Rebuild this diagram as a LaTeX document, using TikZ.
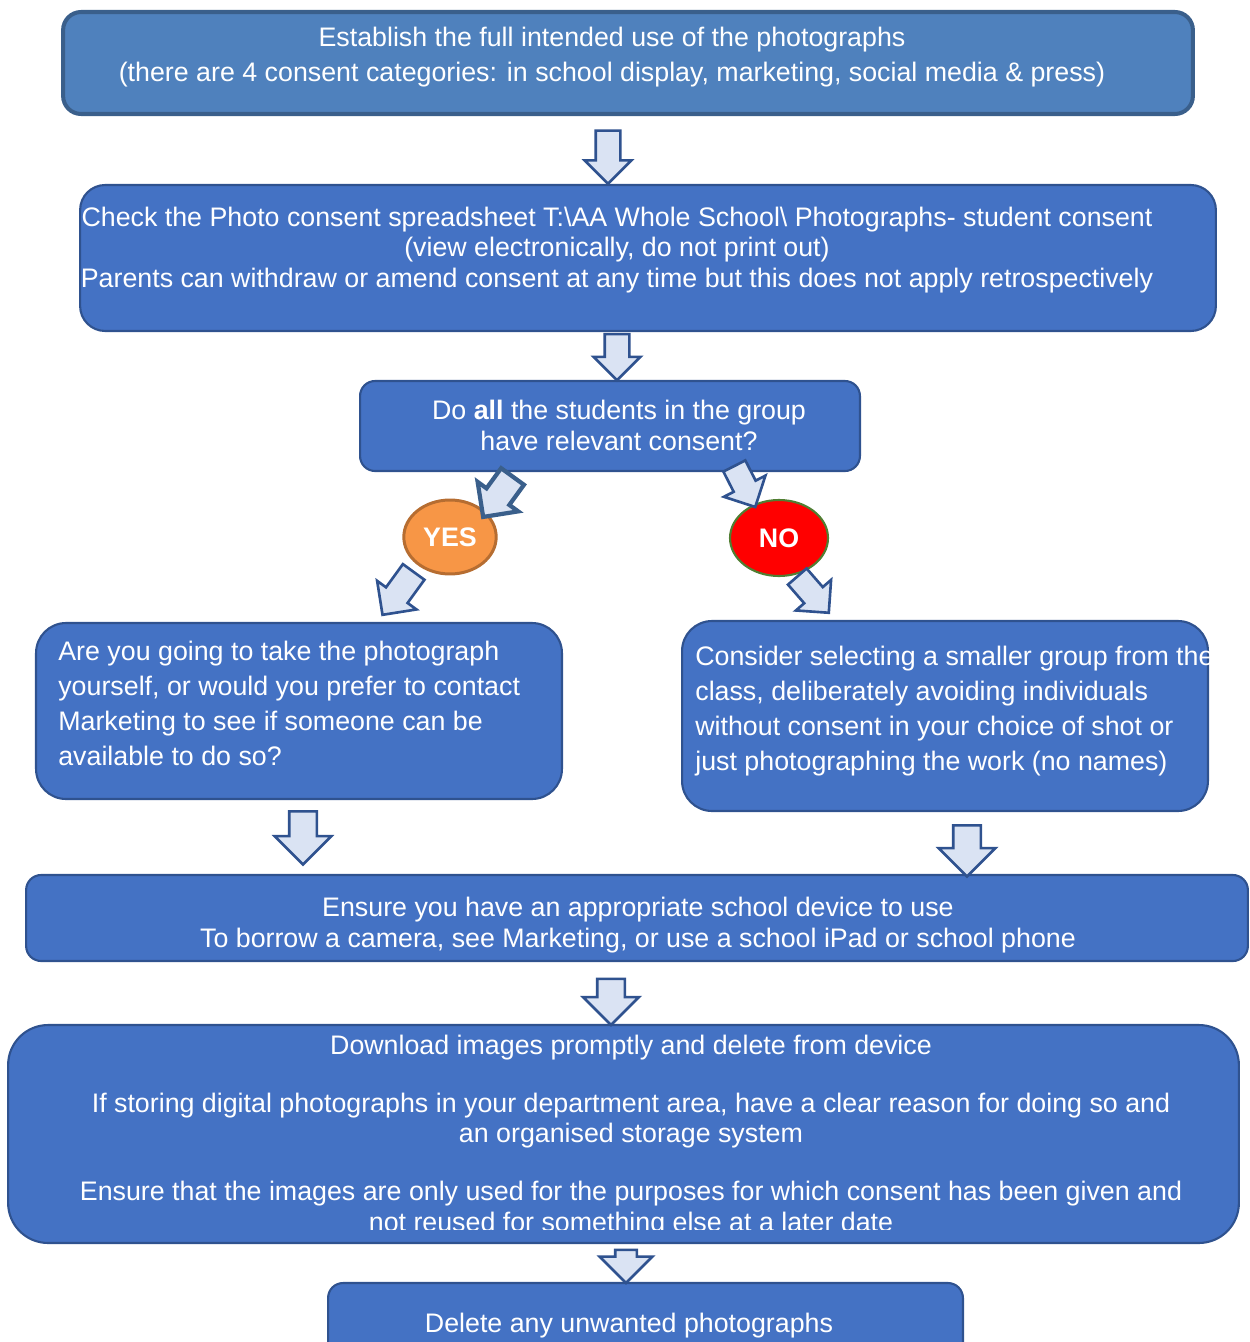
\documentclass[tikz,border=0pt]{standalone}
\usepackage{fontspec}
\setmainfont{Liberation Sans}
\usetikzlibrary{shapes.geometric,shapes.arrows,positioning}
\definecolor{topfill}{HTML}{4F81BD}
\definecolor{topline}{HTML}{3A5F8B}
\definecolor{boxfill}{HTML}{4472C4}
\definecolor{boxline}{HTML}{2F528F}
\definecolor{arrfill}{HTML}{DAE3F3}
\definecolor{yesfill}{HTML}{F79646}
\definecolor{yesline}{HTML}{B66D31}
\definecolor{noline}{HTML}{507E32}

\begin{document}
\begin{tikzpicture}[x=0.02cm,y=-0.02cm]
		\tikzstyle{box} = [draw=boxline, fill=boxfill, line width=1.2pt]
		\tikzstyle{txt} = [text=white, inner sep=0pt, font=\fontsize{15.25}{17.6}\selectfont]
		\tikzstyle{blk} = [single arrow, draw=boxline, fill=arrfill, line width=1.5pt, inner xsep=0pt, inner ysep=0.22cm, single arrow head extend=0.22cm]
		\useasboundingbox (0,0) rectangle (1250,1342);
		
		% Cajas
		\node[box, draw=topline, fill=topfill, line width=2.3pt, rounded corners=0.36cm, minimum width=22.6cm, minimum height=2.04cm] (intent) at (628,63) {};
		\node[box, rounded corners=0.5cm, minimum width=22.72cm, minimum height=2.92cm] (check) at (648,258) {};
		\node[box, rounded corners=0.3cm, minimum width=10cm, minimum height=1.8cm] (group) at (610,426) {};
		\node[box, rounded corners=0.6cm, minimum width=10.52cm, minimum height=3.52cm] (take) at (299,711) {};
		\node[box, rounded corners=0.6cm, minimum width=10.52cm, minimum height=3.8cm] (smaller) at (945,716) {};
		\node[box, rounded corners=0.3cm, minimum width=24.44cm, minimum height=1.72cm] (device) at (637,918) {};
		\node[box, rounded corners=0.8cm, minimum width=24.62cm, minimum height=4.36cm] (download) at (623.5,1134) {};
		\node[box, rounded corners=0.3cm, minimum width=12.7cm, minimum height=2.34cm] (delete) at (645.5,1341.5) {};
		
		% YES / NO
		\node[ellipse, draw=yesline, fill=yesfill, line width=1.7pt, minimum width=1.8cm, minimum height=1.48cm, text=white, font=\fontsize{15.25}{18}\selectfont\bfseries] (yes) at (450,537) {YES};
		\node[ellipse, draw=noline, fill=red, line width=1.2pt, minimum width=1.96cm, minimum height=1.52cm, text=white, font=\fontsize{15.25}{18}\selectfont\bfseries] (no) at (779,538) {NO};
		
		% Textos
		\node[txt, align=center, font=\fontsize{15.25}{19.9}\selectfont] (intenttxt) at (612,57) {Establish the full intended use of the photographs\\(there are 4 consent categories: in school display, marketing, social media \& press)};
		\node[txt, align=center] (checktxt) at (617,250) {Check the Photo consent spreadsheet T:\textbackslash AA Whole School\textbackslash{} Photographs- student consent\\(view electronically, do not print out)\\Parents can withdraw or amend consent at any time but this does not apply retrospectively};
		\node[txt, align=center] (grouptxt) at (619,425) {Do \textbf{all} the students in the group\\have relevant consent?};
		\node[txt, align=left, anchor=west, font=\fontsize{15.25}{19.9}\selectfont] (taketxt) at (58,703) {Are you going to take the photograph\\yourself, or would you prefer to contact\\Marketing to see if someone can be\\available to do so?};
		\node[txt, align=left, anchor=west, font=\fontsize{15.25}{19.9}\selectfont] (smallertxt) at (695,711) {Consider selecting a smaller group from the\\class, deliberately avoiding individuals\\without consent in your choice of shot or\\just photographing the work (no names)};
		\node[txt, align=center] (devicetxt) at (638,925) {Ensure you have an appropriate school device to use\\To borrow a camera, see Marketing, or use a school iPad or school phone};
		\begin{scope}
			\clip (0,0) rectangle (1250,1229);
			\node[txt, align=center] (downloadtxt) at (631,1136) {Download images promptly and delete from device\\[15.4pt]If storing digital photographs in your department area, have a clear reason for doing so and\\an organised storage system\\[15.4pt]Ensure that the images are only used for the purposes for which consent has been given and\\not reused for something else at a later date};
		\end{scope}
		\node[txt] (deletetxt) at (629,1326) {Delete any unwanted photographs};
		
		% Flechas
		\node[blk, rotate=-90, minimum height=1.06cm] (a1) at (608,151) {};
		\node[blk, rotate=-90, minimum height=0.92cm] (a2) at (617,351) {};
		\node[blk, draw=topline, line width=2.4pt, rotate=234, minimum height=1cm, inner ysep=0.24cm] (a3) at (502,491) {};
		\node[blk, rotate=234, minimum height=1.06cm, inner ysep=0.24cm] (a4) at (402,588) {};
		\node[blk, rotate=-63, minimum height=0.92cm] (a5) at (742,481) {};
		\node[blk, rotate=-49, minimum height=0.96cm] (a6) at (809,590) {};
		\node[blk, rotate=-90, minimum height=1.06cm, inner ysep=0.25cm, single arrow head extend=0.29cm] (a7) at (303,831) {};
		\node[blk, rotate=-90, minimum height=1.02cm, inner ysep=0.25cm, single arrow head extend=0.29cm] (a8) at (967,844) {};
		\node[blk, rotate=-90, minimum height=0.92cm, inner ysep=0.25cm, single arrow head extend=0.28cm] (a9) at (611,995) {};
		\node[blk, rotate=-90, minimum height=0.66cm, inner ysep=0.19cm, single arrow head extend=0.31cm] (a10) at (626,1261) {};
\end{tikzpicture}
\end{document}
